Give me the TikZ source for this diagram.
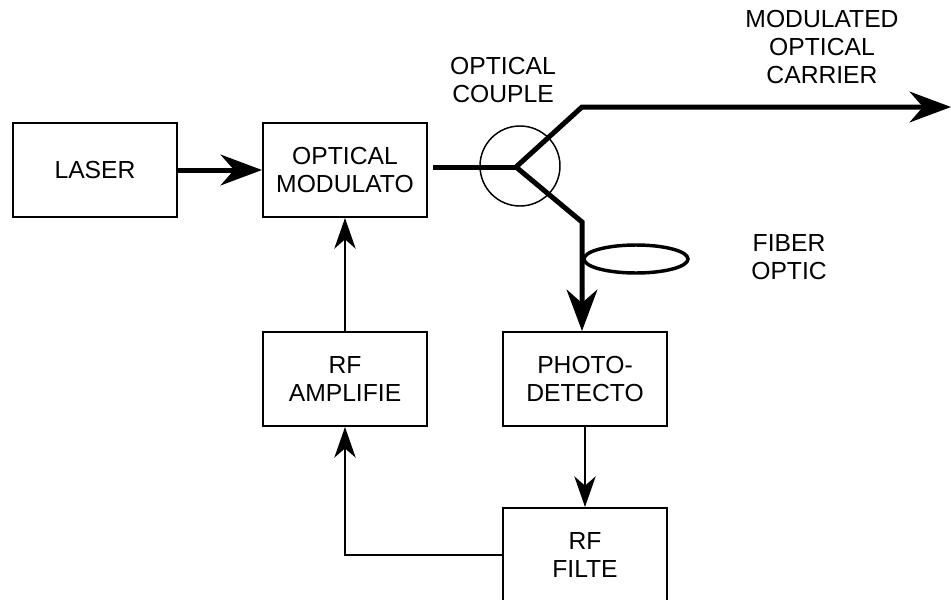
\documentclass[tikz,border=0pt]{standalone}
\usepackage{fontspec}
\setmainfont{Liberation Sans}
\usetikzlibrary{arrows.meta}

\begin{document}
\begin{tikzpicture}[x=0.75pt,y=-0.75pt,
    font=\fontsize{18.5}{21}\selectfont,
    blk/.style={draw,line width=1.5pt,minimum width=123pt,minimum height=70.5pt,align=center,inner sep=0pt},
    lbl/.style={align=center,inner sep=0pt},
    fib/.style={line width=3.75pt,-{Stealth[length=31pt,width=23pt,inset=10pt]}},
    sig/.style={line width=1.6pt,-{Stealth[length=23pt,width=16pt,inset=7pt]}}]
        \useasboundingbox (0,0) rectangle (951,600);
        \clip (0,0) rectangle (951,600);
        % blocks
        \node[blk] (laser) at (95,170) {LASER};
        \node[blk] (mod) at (345,170) {OPTICAL\\MODULATO};
        \node[blk] (amp) at (345,379) {RF\\AMPLIFIE};
        \node[blk] (det) at (585,379) {PHOTO-\\DETECTO};
        \node[blk] (filt) at (585,555) {RF\\FILTE};
        \node[draw,circle,line width=1.1pt,minimum size=60pt,inner sep=0pt] (cpl) at (520,166) {};
        \coordinate (j) at (516,167);
        \coordinate (up) at (582,107);
        \coordinate (dn) at (582,222);
        \coordinate (out) at (951,107);
        % labels
        \node[lbl] (cpllbl) at (503,80) {OPTICAL\\COUPLE};
        \node[lbl] (outlbl) at (822,47) {MODULATED\\OPTICAL\\CARRIER};
        \node[lbl] (fiblbl) at (789,257) {FIBER\\OPTIC};
        % optical path
        \draw[fib] (laser) -- (mod);
        \draw[line width=3.75pt] (mod.east |- j) ++(5,0) -- (j);
        \draw[fib,line join=miter] (j) -- (up) -- (out);
        \draw[fib,line join=miter] (j) -- (dn) -- (dn |- det.north);
        \draw[line width=2.6pt] (636,259) ellipse (52 and 14);
        % rf loop
        \draw[sig] (det) -- (filt);
        \draw[sig] (filt.west) -| (amp.south);
        \draw[sig] (amp) -- (mod);
      \end{tikzpicture}
\end{document}
